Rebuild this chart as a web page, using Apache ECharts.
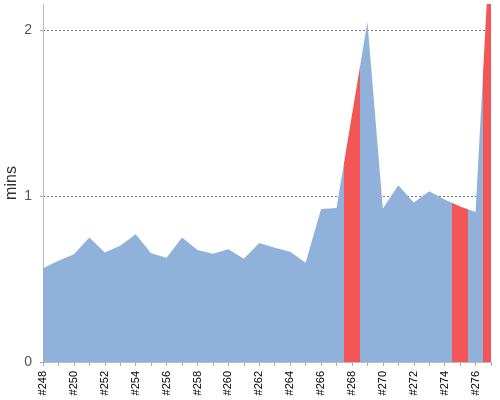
<!DOCTYPE html>
<html>
<head>
<meta charset="utf-8">
<script src="https://cdn.jsdelivr.net/npm/echarts@6/dist/echarts.min.js"></script>
<style>html,body{margin:0;padding:0;background:#fff}#c{width:500px;height:400px}</style>
</head>
<body>
<div id="c"></div>
<script>
var builds = ['#248','#249','#250','#251','#252','#253','#254','#255','#256','#257','#258','#259','#260','#261','#262','#263','#264','#265','#266','#267','#268','#269','#270','#271','#272','#273','#274','#275','#276','#277'];
var minutes = [0.565,0.61,0.65,0.75,0.66,0.70,0.77,0.655,0.628,0.751,0.675,0.653,0.68,0.623,0.717,0.689,0.665,0.598,0.923,0.929,1.49,2.05,0.926,1.066,0.962,1.03,0.98,0.938,0.904,2.64];
var failedIdx = [20, 27, 29];
var yTicks = [0, 1, 2];

var BLUE = '#8fb1da', RED = '#f25656';
var pieces = failedIdx.map(function (i) { return { gt: i - 0.5, lt: i + 0.5, color: RED }; });
var seriesData = minutes.map(function (v, i) { return [i, v]; });

var chart = echarts.init(document.getElementById('c'));
chart.setOption({
  animation: false,
  grid: { left: 43, right: 9, top: 4, bottom: 38, containLabel: false, outerBoundsMode: 'none' },
  visualMap: {
    show: false, type: 'piecewise', dimension: 0, seriesIndex: 0,
    pieces: pieces, outOfRange: { color: BLUE }
  },
  xAxis: {
    type: 'value', min: 0, max: builds.length - 1, interval: 1,
    axisLine: { show: true, onZero: false, lineStyle: { color: '#bbb' } },
    axisTick: { show: true, length: 4, lineStyle: { color: '#aaa' } },
    axisLabel: {
      rotate: 90, margin: 9, color: '#000', fontSize: 11, fontFamily: 'Liberation Sans, Arial, sans-serif',
      showMaxLabel: true,
      formatter: function (v) { return (v % 2 === 0 && builds[v]) ? builds[v] : ''; }
    },
    splitLine: { show: false }
  },
  yAxis: {
    type: 'value', min: 0, max: 2.158, interval: 1, offset: 3,
    name: 'mins', nameLocation: 'middle', nameGap: 20, nameRotate: 90, nameMoveOverlap: false,
    nameTextStyle: { color: '#333', fontSize: 16, fontFamily: 'Liberation Sans, Arial, sans-serif' },
    axisLine: { show: true, lineStyle: { color: '#bbb' } },
    axisTick: { show: true, length: 3, lineStyle: { color: '#aaa' } },
    axisLabel: {
      margin: 8, color: '#555', fontSize: 14, fontFamily: 'Liberation Sans, Arial, sans-serif',
      showMaxLabel: false,
      formatter: function (v) { return yTicks.indexOf(v) >= 0 ? String(v) : ''; }
    },
    splitLine: { show: true, showMinLine: false, showMaxLine: false, lineStyle: { color: '#777', type: [2, 2], width: 1 } }
  },
  series: [{
    type: 'line', data: seriesData, symbol: 'none', clip: true,
    lineStyle: { width: 0, opacity: 0 },
    areaStyle: { opacity: 1 }
  }]
});
</script>
</body>
</html>
